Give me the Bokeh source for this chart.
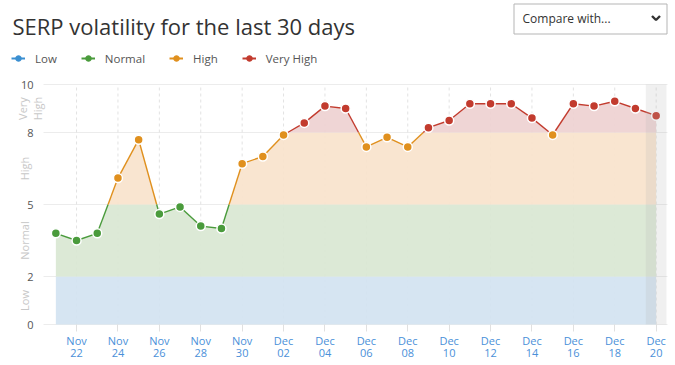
import numpy as np
from bokeh.plotting import figure
from bokeh.models import (ColumnDataSource, Legend, LegendItem,
                          BoxAnnotation, FixedTicker, Range1d)
from bokeh.core.properties import value
from bokeh.embed import file_html
from bokeh.resources import INLINE

# ---------------- data ----------------
days = ["Nov 21", "Nov 22", "Nov 23", "Nov 24", "Nov 25", "Nov 26", "Nov 27",
        "Nov 28", "Nov 29", "Nov 30", "Dec 01", "Dec 02", "Dec 03", "Dec 04",
        "Dec 05", "Dec 06", "Dec 07", "Dec 08", "Dec 09", "Dec 10", "Dec 11",
        "Dec 12", "Dec 13", "Dec 14", "Dec 15", "Dec 16", "Dec 17", "Dec 18",
        "Dec 19", "Dec 20"]
volatility = [3.8, 3.5, 3.8, 6.1, 7.7, 4.6, 4.9, 4.1, 4.0, 6.7,
              7.0, 7.9, 8.4, 9.1, 9.0, 7.4, 7.8, 7.4, 8.2, 8.5,
              9.2, 9.2, 9.2, 8.6, 7.9, 9.2, 9.1, 9.3, 9.0, 8.7]
zone_names = ["Low", "Normal", "High", "Very High"]
zone_labels = ["Low", "Normal", "High", "Very\nHigh"]
zone_edges = [0, 2, 5, 8, 10]
y_ticks = [0, 2, 5, 8, 10]
title_text = "SERP volatility for the last 30 days"
compare_text = "Compare with..."

# ---------------- styles / layout ----------------
zone_colors = ["#3b8fd1", "#4a9b3c", "#e0901e", "#c23b2e"]
zone_fills = ["#d2e3f1", "#d9e7d3", "#f8e3cc", "#eed1d1"]
FONT = "Open Sans"
W, H = 675, 365
PLOT_L, PLOT_R = 45, 666          # pixel extent of the day range
PLOT_T, PLOT_B = 84, 324          # pixel extent of the 0..10 range
FRAME_B = 331                     # frame bottom (leaves room for the "0" label)


def zone_of(v):
    for k in range(len(zone_names)):
        if v < zone_edges[k + 1]:
            return k
    return len(zone_names) - 1


n = len(days)
ppd = (PLOT_R - PLOT_L) / n
ppu = (PLOT_B - PLOT_T) / (zone_edges[-1] - zone_edges[0])
x_range = Range1d(-0.5 - PLOT_L / ppd, n - 0.5 + (W - PLOT_R) / ppd)
y_range = Range1d(zone_edges[0] - (FRAME_B - PLOT_B) / ppu,
                  zone_edges[-1] + PLOT_T / ppu)

p = figure(width=W, height=H, output_backend="svg", toolbar_location=None,
           x_range=x_range, y_range=y_range, title=None,
           min_border_left=0, min_border_right=0, min_border_top=0,
           min_border_bottom=H - FRAME_B, outline_line_color=None,
           y_axis_type=None)
p.xgrid.visible = False
p.ygrid.visible = False
# pixel-space ranges for page furniture (title, box, axis texts)
p.extra_x_ranges = {"px": Range1d(0, W)}
p.extra_y_ranges = {"px": Range1d(FRAME_B, 0)}

x = np.arange(n, dtype=float)
y = np.array(volatility, dtype=float)
tick_idx = list(range(1, n, 2))

# ---------------- grid ----------------
p.segment(x0=[PLOT_L - 2] * len(y_ticks), x1=[PLOT_R + 1] * len(y_ticks),
          y0=y_ticks, y1=y_ticks, x_range_name="px", line_color="#ececec",
          line_width=1)
p.segment(x0=tick_idx, x1=tick_idx, y0=[zone_edges[0]] * len(tick_idx),
          y1=[zone_edges[-1]] * len(tick_idx), line_color="#e2e2e2",
          line_dash="3 3", line_width=1)

# ---------------- zone fills & line ----------------
thresholds = zone_edges[1:-1]
xs, ys = [x[0]], [y[0]]
for i in range(n - 1):
    x0, y0, x1, y1 = x[i], y[i], x[i + 1], y[i + 1]
    cross = []
    for t in thresholds:
        if (y0 - t) * (y1 - t) < 0:
            cross.append((x0 + (t - y0) / (y1 - y0) * (x1 - x0), t))
    cross.sort()
    for cx, cy in cross:
        xs.append(cx)
        ys.append(cy)
    xs.append(x1)
    ys.append(y1)
xs = np.array(xs)
ys = np.array(ys)

for k in range(len(zone_names)):
    lo, hi = zone_edges[k], zone_edges[k + 1]
    p.varea(x=xs, y1=np.full(len(xs), lo), y2=np.clip(ys, lo, hi),
            fill_color=zone_fills[k], fill_alpha=0.92)

seg_col = [zone_colors[zone_of((ys[i] + ys[i + 1]) / 2)] for i in range(len(xs) - 1)]
p.segment(x0=xs[:-1], y0=ys[:-1], x1=xs[1:], y1=ys[1:], line_color=seg_col,
          line_width=1.4)

p.add_layout(BoxAnnotation(left=x[-1] - 0.5, right=x[-1] + 0.5,
                           top=zone_edges[-1], bottom=zone_edges[0],
                           fill_color="#b4b4b4", fill_alpha=0.2, line_color=None,
                           level="overlay"))

pt_zone = [zone_of(v) for v in volatility]
for k in range(len(zone_names)):
    idx = [i for i in range(n) if pt_zone[i] == k]
    if not idx:
        continue
    src = ColumnDataSource(dict(x=[x[i] for i in idx], y=[y[i] for i in idx]))
    p.scatter("x", "y", source=src, size=9, fill_color=zone_colors[k],
              line_color="white", line_width=1.5, level="overlay")

# ---------------- x axis (real axis) ----------------
p.xaxis.ticker = FixedTicker(ticks=tick_idx)
p.xaxis.bounds = (-0.5, n - 0.5)
p.xaxis.major_label_overrides = {i: days[i].replace(" ", "\n") for i in tick_idx}
p.xaxis.major_label_text_color = "#4a90d9"
p.xaxis.major_label_text_font = FONT
p.xaxis.major_label_text_font_size = "11px"
p.xaxis.major_label_text_line_height = 0.85
p.xaxis.axis_line_color = None
p.xaxis.major_tick_line_color = "#e0e0e0"
p.xaxis.major_tick_out = 0
p.xaxis.major_tick_in = FRAME_B - PLOT_B
p.xaxis.minor_tick_line_color = None
p.xaxis.major_label_standoff = 1

# ---------------- y axis texts ----------------
p.text(x=[PLOT_L - 12] * len(y_ticks), y=y_ticks, text=[str(t) for t in y_ticks],
       x_range_name="px", text_align="right", text_baseline="middle",
       text_font=value(FONT), text_font_size="11px", text_color="#555555")
mids = [(zone_edges[k] + zone_edges[k + 1]) / 2 for k in range(len(zone_names))]
band_x = [PLOT_L - 21 + 5.5 * lab.count("\n") for lab in zone_labels]
p.text(x=band_x, y=mids, text=zone_labels, x_range_name="px",
       angle=np.pi / 2, text_align="center", text_baseline="middle",
       text_font=value(FONT), text_font_size="11px", text_color="#c8c8c8",
       text_line_height=1.0)

# ---------------- header ----------------
p.text(x=[12], y=[25], text=[title_text], x_range_name="px", y_range_name="px",
       text_font=value(FONT), text_font_size="22px", text_color="#333333",
       text_baseline="alphabetic")

p.quad(left=[513.5], right=[666.5], top=[3.5], bottom=[33.5],
       x_range_name="px", y_range_name="px",
       fill_color="white", line_color="#b5b5b5", line_width=1)
p.text(x=[522], y=[18], text=[compare_text], x_range_name="px", y_range_name="px",
       text_font=value(FONT), text_font_size="12px", text_color="#333333",
       text_baseline="middle")
p.line(x=[651.5, 655.5, 659.5], y=[15.5, 19.5, 15.5], x_range_name="px",
       y_range_name="px", line_color="#333333", line_width=2.4)

items = []
for k, name in enumerate(zone_names):
    lr = p.line(x=[x[0]], y=[np.nan], line_color=zone_colors[k], line_width=2)
    sr = p.scatter(x=[x[0]], y=[np.nan], size=8, fill_color=zone_colors[k],
                   line_color=zone_colors[k])
    items.append(LegendItem(label=name, renderers=[lr, sr]))
legend = Legend(items=items, orientation="horizontal",
                location=(11, FRAME_B - 67),
                padding=0, margin=0, spacing=24, label_standoff=10,
                glyph_width=14, glyph_height=18, label_height=18,
                label_text_font=FONT, label_text_font_size="11.5px",
                label_text_color="#555555", background_fill_alpha=0,
                border_line_color=None)
p.add_layout(legend, "center")

open("out.html", "w").write(file_html(p, INLINE))
